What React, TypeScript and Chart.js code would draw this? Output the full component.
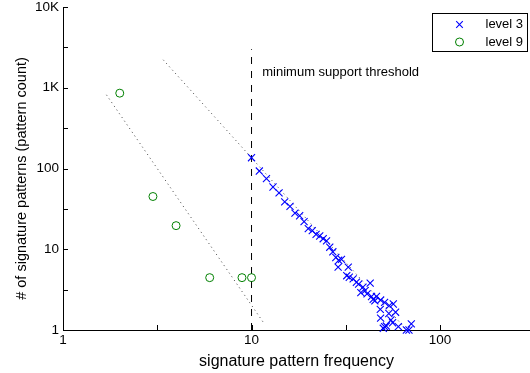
import React, { useEffect, useRef } from 'react';
import { Chart, registerables } from 'chart.js';

Chart.register(...registerables);

const FONT = "'Liberation Sans', Arial, Helvetica, sans-serif";

// level 3 (blue x markers)
const level3X = [10, 11, 12, 13, 14, 15, 16, 17, 18, 19, 20, 21, 22, 23, 24, 25, 26, 27, 28, 29, 30, 28.8, 32.6, 32, 33, 34.6, 36, 37, 39, 42.6, 38, 40, 41, 43.3, 44.2, 46, 45.1, 48.4, 50.8, 53.8, 56.5, 48.2, 53.5, 58.1, 54.9, 48.4, 50.8, 51.9, 56, 60.1, 66.3, 68.4, 70.4, 50];
const level3Y = [136, 93, 75, 59, 50, 38.6, 34, 28, 26, 22, 18, 17, 15.3, 14.6, 13.5, 12.7, 10.6, 9.3, 7.9, 7.3, 7.5, 6.0, 6.0, 4.7, 4.5, 4.3, 3.9, 3.7, 3.4, 3.8, 2.9, 3.07, 2.8, 2.6, 2.4, 2.6, 2.3, 2.35, 2.2, 2.0, 2.1, 1.8, 1.6, 1.66, 1.33, 1.4, 1.1, 1.12, 1.23, 1.1, 1, 1, 1.19, 1.05];

// level 9 (green circles)
const level9X = [2, 3, 3.98, 6, 8.9, 10];
const level9Y = [857, 45, 19.6, 4.45, 4.45, 4.45];

// dotted fit lines
const fit9X = [1.7, 11.7];
const fit9Y = [817, 1.19];
const fit3X = [3.4, 66];
const fit3Y = [2218, 1.02];

// threshold
const thresholdX = [10, 10];
const thresholdY = [1, 3000];
const annotationText = 'minimum support threshold';
const annotationX = 11.4;
const annotationY = 1530;

// axes
const xMin = 1;
const xMax = 300;
const yMin = 1;
const yMax = 10000;
const xMajorTicks = [1, 10, 100];
const xTickLabels = ['1', '10', '100'];
const xMinorTicks = [3.1623, 31.623];
const yMajorTicks = [1, 10, 100, 1000, 10000];
const yTickLabels = ['1', '10', '100', '1K', '10K'];
const yMinorTicks = [3.1623, 31.623, 316.23, 3162.3];

const seriesNames = ['level 3', 'level 9'];
const xTitle = 'signature pattern frequency';
const yTitle = '# of signature patterns (pattern count)';

const BLUE = '#0000ff';
const GREEN = '#008000';

const toPoints = (xs: number[], ys: number[]) => xs.map((x, i) => ({ x, y: ys[i] }));

const overlayPlugin = {
  id: 'overlay',
  afterDraw(chart: any) {
    const ctx = chart.ctx as CanvasRenderingContext2D;
    const xs = chart.scales.x;
    const ys = chart.scales.y;
    const { left, right, top, bottom } = chart.chartArea;
    ctx.save();
    // inward tick marks
    ctx.strokeStyle = '#000';
    ctx.lineWidth = 1;
    ctx.beginPath();
    [...xMajorTicks, ...xMinorTicks].forEach((v) => {
      const px = Math.round(xs.getPixelForValue(v)) + 0.5;
      if (px > left + 1 && px < right) {
        ctx.moveTo(px, bottom);
        ctx.lineTo(px, bottom - 5);
      }
    });
    [...yMajorTicks, ...yMinorTicks].forEach((v) => {
      const py = Math.round(ys.getPixelForValue(v)) + 0.5;
      if (py < bottom - 1 && py >= top - 1) {
        ctx.moveTo(left, py);
        ctx.lineTo(left + 5, py);
      }
    });
    ctx.stroke();

    // y axis title
    ctx.save();
    ctx.fillStyle = '#000';
    ctx.font = `14.5px ${FONT}`;
    ctx.textAlign = 'center';
    ctx.textBaseline = 'middle';
    ctx.translate(22, (top + bottom) / 2 + 10);
    ctx.rotate(-Math.PI / 2);
    ctx.fillText(yTitle, 0, 0);
    ctx.restore();

    // annotation text
    ctx.fillStyle = '#000';
    ctx.font = `13px ${FONT}`;
    ctx.textAlign = 'left';
    ctx.textBaseline = 'middle';
    ctx.fillText(annotationText, xs.getPixelForValue(annotationX), ys.getPixelForValue(annotationY));

    // legend
    const bw = 95;
    const bh = 38;
    const bx = Math.round(right - 3 - bw) + 0.5;
    const by = Math.round(top + 6) + 0.5;
    ctx.fillStyle = '#fff';
    ctx.fillRect(bx, by, bw, bh);
    ctx.strokeStyle = '#000';
    ctx.lineWidth = 1;
    ctx.strokeRect(bx, by, bw, bh);
    const rows = [by + 11, by + 28.5];
    const mx = bx + 27;
    ctx.strokeStyle = BLUE;
    ctx.lineWidth = 1.1;
    ctx.beginPath();
    const r = 3.3;
    ctx.moveTo(mx - r, rows[0] - r);
    ctx.lineTo(mx + r, rows[0] + r);
    ctx.moveTo(mx - r, rows[0] + r);
    ctx.lineTo(mx + r, rows[0] - r);
    ctx.stroke();
    ctx.strokeStyle = GREEN;
    ctx.lineWidth = 1;
    ctx.beginPath();
    ctx.arc(mx, rows[1], 4, 0, Math.PI * 2);
    ctx.stroke();
    ctx.fillStyle = '#000';
    ctx.font = `13px ${FONT}`;
    ctx.textAlign = 'left';
    ctx.textBaseline = 'middle';
    seriesNames.forEach((n, i) => ctx.fillText(n, bx + 53, rows[i]));
    ctx.restore();
  },
};

export default function App() {
  const ref = useRef<HTMLCanvasElement | null>(null);

  useEffect(() => {
    document.body.style.margin = '0';
    const canvas = ref.current;
    if (!canvas) return;
    const chart = new Chart(canvas, {
      type: 'scatter',
      data: {
        datasets: [
          {
            label: seriesNames[0],
            data: toPoints(level3X, level3Y),
            pointStyle: 'crossRot',
            pointRadius: 5,
            pointBorderWidth: 1.1,
            borderColor: BLUE,
            backgroundColor: BLUE,
            showLine: false,
            clip: false,
          } as any,
          {
            label: seriesNames[1],
            data: toPoints(level9X, level9Y),
            pointStyle: 'circle',
            pointRadius: 4,
            pointBorderWidth: 1,
            borderColor: GREEN,
            backgroundColor: 'rgba(0,0,0,0)',
            showLine: false,
            clip: false,
          } as any,
          {
            label: 'fit 9',
            data: toPoints(fit9X, fit9Y),
            showLine: true,
            pointRadius: 0,
            borderColor: 'rgba(0,0,0,0.75)',
            borderWidth: 1,
            borderDash: [1, 3.5],
          } as any,
          {
            label: 'fit 3',
            data: toPoints(fit3X, fit3Y),
            showLine: true,
            pointRadius: 0,
            borderColor: 'rgba(0,0,0,0.75)',
            borderWidth: 1,
            borderDash: [1, 3.5],
          } as any,
          {
            label: 'threshold',
            data: toPoints(thresholdX, thresholdY),
            showLine: true,
            pointRadius: 0,
            borderColor: '#000',
            borderWidth: 1,
            borderDash: [7, 7],
          } as any,
        ],
      },
      options: {
        animation: false,
        responsive: false,
        maintainAspectRatio: false,
        events: [],
        layout: { autoPadding: false, padding: { top: 7, left: 0, right: 0, bottom: 0 } },
        plugins: {
          legend: { display: false },
          tooltip: { enabled: false },
        },
        scales: {
          x: {
            type: 'logarithmic',
            min: xMin,
            max: xMax,
            afterBuildTicks: (scale: any) => {
              scale.ticks = [...xMajorTicks, ...xMinorTicks]
                .filter((v) => v >= xMin && v <= xMax)
                .sort((a, b) => a - b)
                .map((v) => ({ value: v }));
            },
            afterFit: (scale: any) => {
              scale.height = 43;
              scale.paddingLeft = 0;
              scale.paddingRight = 0;
            },
            grid: { display: false, drawTicks: false },
            border: { display: true, color: '#000', width: 1 },
            ticks: {
              autoSkip: false,
              maxRotation: 0,
              padding: 4,
              color: '#000',
              font: { family: FONT, size: 13.5, lineHeight: 1 },
              callback: (value: any) => {
                const i = xMajorTicks.indexOf(Number(value));
                return i >= 0 ? xTickLabels[i] : '';
              },
            },
            title: {
              display: true,
              text: xTitle,
              color: '#000',
              font: { family: FONT, size: 16, lineHeight: 1.2 },
              padding: { top: 0, bottom: 2 },
            },
          },
          y: {
            type: 'logarithmic',
            min: yMin,
            max: yMax,
            afterBuildTicks: (scale: any) => {
              scale.ticks = [...yMajorTicks, ...yMinorTicks]
                .sort((a, b) => a - b)
                .map((v) => ({ value: v }));
            },
            afterFit: (scale: any) => {
              scale.width = 63;
              scale.paddingTop = 0;
              scale.paddingBottom = 0;
            },
            grid: { display: false, drawTicks: false },
            border: { display: true, color: '#000', width: 1 },
            ticks: {
              autoSkip: false,
              padding: 4,
              color: '#000',
              font: { family: FONT, size: 13.5, lineHeight: 1 },
              callback: (value: any) => {
                const i = yMajorTicks.indexOf(Number(value));
                return i >= 0 ? yTickLabels[i] : '';
              },
            },
            title: { display: false },
          },
        },
      } as any,
      plugins: [overlayPlugin],
    });
    return () => chart.destroy();
  }, []);

  return (
    <div style={{ width: 530, height: 373 }}>
      <canvas ref={ref} width={530} height={373} style={{ display: 'block' }} />
    </div>
  );
}
